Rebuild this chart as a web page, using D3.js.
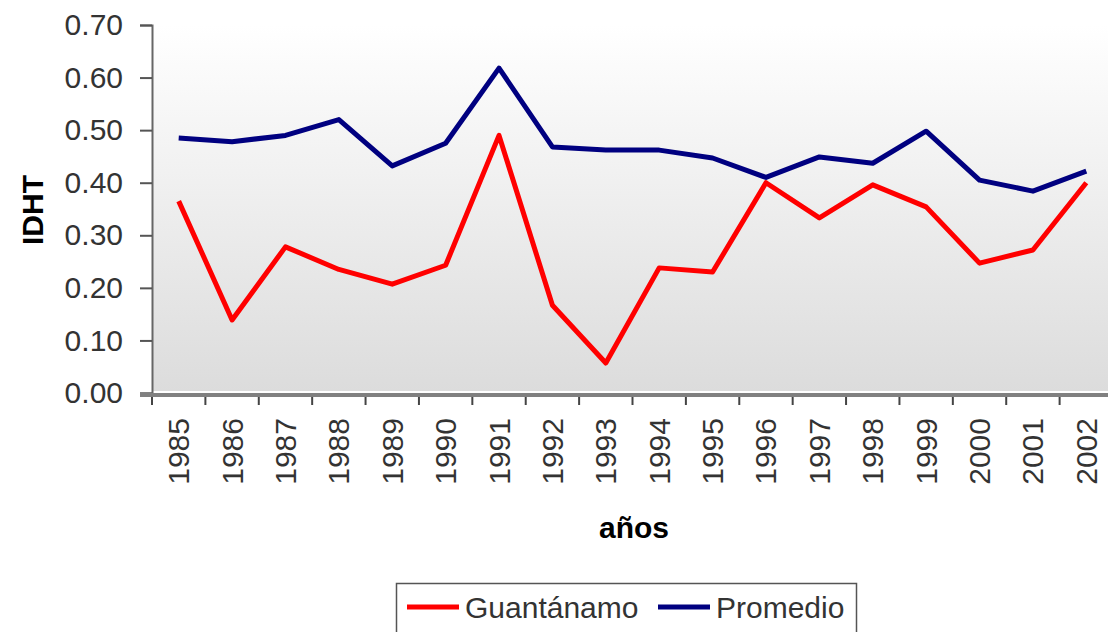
<!DOCTYPE html>
<html>
<head>
<meta charset="utf-8">
<script src="https://cdn.jsdelivr.net/npm/d3@7"></script>
<style>
  body { margin: 0; background: #fff; }
  text { font-family: "Liberation Sans", Arial, sans-serif; }
</style>
</head>
<body>
<div id="chart"></div>
<script>
var years = ['1985','1986','1987','1988','1989','1990','1991','1992','1993',
             '1994','1995','1996','1997','1998','1999','2000','2001','2002'];
var guantanamo = [0.365, 0.139, 0.278, 0.235, 0.207, 0.243, 0.490, 0.167, 0.057,
                  0.238, 0.230, 0.400, 0.333, 0.396, 0.354, 0.247, 0.272, 0.400];
var promedio = [0.485, 0.478, 0.490, 0.520, 0.432, 0.475, 0.618, 0.468, 0.462,
                0.462, 0.447, 0.410, 0.449, 0.437, 0.498, 0.405, 0.384, 0.422];
var yTicks = [0, 0.1, 0.2, 0.3, 0.4, 0.5, 0.6, 0.7];
var seriesNames = ['Guantánamo', 'Promedio'];
var seriesColors = ['#ff0000', '#000080'];

var width = 1108, height = 632;
var plotLeft = 152, plotRight = 1113, plotTop = 25, plotBottom = 393;

var svg = d3.select('#chart').append('svg')
  .attr('width', width)
  .attr('height', height);

var x = d3.scaleBand().domain(years).range([plotLeft, plotRight]);
var y = d3.scaleLinear().domain([0, 0.7]).range([plotBottom, plotTop]);

// plot background
var grad = svg.append('defs').append('linearGradient')
  .attr('id', 'bg').attr('x1', 0).attr('y1', 0).attr('x2', 0).attr('y2', 1);
grad.append('stop').attr('offset', '0%').attr('stop-color', '#ffffff');
grad.append('stop').attr('offset', '100%').attr('stop-color', '#dcdcdc');
svg.append('rect')
  .attr('x', plotLeft).attr('y', plotTop)
  .attr('width', plotRight - plotLeft).attr('height', plotBottom - plotTop - 2)
  .attr('fill', 'url(#bg)');

// y axis
var yAxis = svg.append('g')
  .attr('transform', 'translate(' + plotLeft + ',0)')
  .call(d3.axisLeft(y).tickValues(yTicks).tickFormat(d3.format('.2f')).tickSize(12).tickPadding(17));
yAxis.select('.domain').attr('stroke', '#666').attr('stroke-width', 2);
yAxis.selectAll('.tick line').attr('stroke', '#555').attr('stroke-width', 2);
yAxis.selectAll('.tick text')
  .attr('font-size', 30)
  .attr('fill', '#333')
  .attr('font-family', '"Liberation Sans", Arial, sans-serif');

// x axis line
svg.append('line')
  .attr('x1', plotLeft - 12).attr('x2', plotRight)
  .attr('y1', plotBottom + 2).attr('y2', plotBottom + 2)
  .attr('stroke', '#808080').attr('stroke-width', 4);

svg.append('g').selectAll('line')
  .data(years)
  .enter()
  .append('line')
  .attr('x1', function(d) { return x(d); })
  .attr('x2', function(d) { return x(d); })
  .attr('y1', plotBottom + 4)
  .attr('y2', plotBottom + 12)
  .attr('stroke', '#444')
  .attr('stroke-width', 2);

svg.append('g').selectAll('text')
  .data(years)
  .enter()
  .append('text')
  .attr('transform', function(d) {
    return 'translate(' + (x(d) + x.bandwidth() / 2) + ',418) rotate(-90)';
  })
  .attr('text-anchor', 'end')
  .attr('dy', '0.35em')
  .attr('font-size', 30)
  .attr('fill', '#333')
  .text(function(d) { return d; });

// axis titles
svg.append('text')
  .attr('transform', 'translate(32,210) rotate(-90)')
  .attr('text-anchor', 'middle')
  .attr('dy', '0.35em')
  .attr('font-size', 30)
  .attr('font-weight', 'bold')
  .attr('fill', '#000')
  .text('IDHT');

svg.append('text')
  .attr('x', 634)
  .attr('y', 538)
  .attr('text-anchor', 'middle')
  .attr('font-size', 30)
  .attr('font-weight', 'bold')
  .attr('fill', '#000')
  .text('años');

// lines
var line = d3.line()
  .x(function(d, i) { return x(years[i]) + x.bandwidth() / 2; })
  .y(function(d) { return y(d); });

[guantanamo, promedio].forEach(function(values, k) {
  svg.append('path')
    .datum(values)
    .attr('d', line)
    .attr('fill', 'none')
    .attr('stroke', seriesColors[k])
    .attr('stroke-width', 5)
    .attr('stroke-linejoin', 'round');
});

// legend
var legend = svg.append('g');
legend.append('rect')
  .attr('x', 396.5).attr('y', 583.5)
  .attr('width', 460).attr('height', 60)
  .attr('fill', '#fff')
  .attr('stroke', '#555')
  .attr('stroke-width', 1.5);

var legendX = [407, 658];
seriesNames.forEach(function(name, k) {
  legend.append('line')
    .attr('x1', legendX[k]).attr('x2', legendX[k] + 52)
    .attr('y1', 607).attr('y2', 607)
    .attr('stroke', seriesColors[k])
    .attr('stroke-width', 5);
  legend.append('text')
    .attr('x', legendX[k] + 58)
    .attr('y', 607)
    .attr('dy', '0.35em')
    .attr('font-size', 30)
    .attr('fill', '#333')
    .text(name);
});
</script>
</body>
</html>
